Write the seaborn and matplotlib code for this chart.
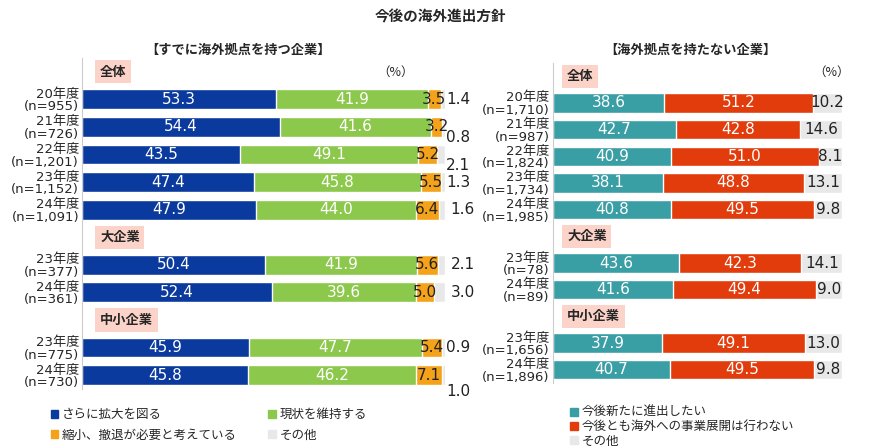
import numpy as np
import pandas as pd
import matplotlib.pyplot as plt
import seaborn as sns
from matplotlib.patches import Patch

sns.set_style("white")
plt.rcParams['font.family'] = ['DejaVu Sans', 'Noto Sans CJK JP']
CJK = ['Noto Sans CJK JP', 'DejaVu Sans']

# data -------------------------------------------------
left_rows = ["20年度\n(n=955)", "21年度\n(n=726)", "22年度\n(n=1,201)", "23年度\n(n=1,152)", "24年度\n(n=1,091)",
             "23年度\n(n=377)", "24年度\n(n=361)", "23年度\n(n=775)", "24年度\n(n=730)"]
left_expand = [53.3, 54.4, 43.5, 47.4, 47.9, 50.4, 52.4, 45.9, 45.8]
left_keep = [41.9, 41.6, 49.1, 45.8, 44.0, 41.9, 39.6, 47.7, 46.2]
left_shrink = [3.5, 3.2, 5.2, 5.5, 6.4, 5.6, 5.0, 5.4, 7.1]
left_other = [1.4, 0.8, 2.1, 1.3, 1.6, 2.1, 3.0, 0.9, 1.0]

right_rows = ["20年度\n(n=1,710)", "21年度\n(n=987)", "22年度\n(n=1,824)", "23年度\n(n=1,734)", "24年度\n(n=1,985)",
              "23年度\n(n=78)", "24年度\n(n=89)", "23年度\n(n=1,656)", "24年度\n(n=1,896)"]
right_new = [38.6, 42.7, 40.9, 38.1, 40.8, 43.6, 41.6, 37.9, 40.7]
right_none = [51.2, 42.8, 51.0, 48.8, 49.5, 42.3, 49.4, 49.1, 49.5]
right_other = [10.2, 14.6, 8.1, 13.1, 9.8, 14.1, 9.0, 13.0, 9.8]

groups = ["全体", "大企業", "中小企業"]
group_sizes = [5, 2, 2]

BLUE, GREEN, ORANGE, GREY = '#0a3a9e', '#8cc84b', '#f5a21b', '#e8e8e8'
TEAL, RED = '#3a9ea5', '#e23c0c'


def slot_order(rows):
    order, heads, i = [], [], 0
    for g, n in zip(groups, group_sizes):
        heads.append((len(order), g))
        order.append(f"_h{len(heads)}")
        for _ in range(n):
            order.append(f"{i}|{rows[i]}")
            i += 1
    return order, heads


def stacked(ax, rows, series, colors, txtcolors, outside):
    order, heads = slot_order(rows)
    keys = [f"{i}|{r}" for i, r in enumerate(rows)]
    cum = np.cumsum(np.array(series), axis=0)
    for k in range(len(series) - 1, -1, -1):
        df = pd.DataFrame({"slot": keys, "v": cum[k]})
        sns.barplot(data=df, x="v", y="slot", order=order, orient="h", color=colors[k],
                    width=0.72, ax=ax, saturation=1, errorbar=None)
    pos = {s: j for j, s in enumerate(order)}
    for i, key in enumerate(keys):
        y = pos[key]
        start = 0
        for k, vals in enumerate(series):
            v = vals[i]
            if (k, i) in outside:
                dx, dy = outside[(k, i)]
                ax.text(100 + dx, y + dy, f"{v:.1f}", ha="left", va="center", fontsize=11, color="#222")
            else:
                ax.text(start + v / 2, y, f"{v:.1f}", ha="center", va="center", fontsize=11, color=txtcolors[k])
            start += v
    for j, g in heads:
        ax.text(5, j, g, ha="left", va="center", fontsize=9.5, fontweight="bold", family=CJK,
                bbox=dict(boxstyle="square,pad=0.35", fc="#fbd3c8", ec="none"))
    ax.set_yticks(range(len(order)))
    ax.set_yticklabels([s.split("|", 1)[1] if "|" in s else "" for s in order], fontsize=9.5,
                       linespacing=0.95)
    ax.set_xlim(0, 100)
    ax.set_ylim(len(order) - 0.5, -0.5)
    ax.set_xticks([])
    ax.set_xlabel("")
    ax.set_ylabel("")
    for s in ["top", "right", "bottom"]:
        ax.spines[s].set_visible(False)
    ax.spines["left"].set_color("#cccccc")
    ax.tick_params(axis="y", length=0, pad=2)


fig = plt.figure(figsize=(8.8, 4.46), dpi=100)
axL = fig.add_axes([0.093, 0.128, 0.413, 0.742])
axR = fig.add_axes([0.628, 0.141, 0.329, 0.718])

outL = {(3, 0): (0.2, 0), (3, 1): (0.2, 0.4), (3, 2): (0.2, 0.4), (3, 3): (0.2, 0), (3, 4): (1.5, 0),
        (3, 5): (1.5, 0), (3, 6): (1.5, 0), (3, 7): (0.2, 0), (3, 8): (0.2, 0.6)}
stacked(axL, left_rows, [left_expand, left_keep, left_shrink, left_other],
        [BLUE, GREEN, ORANGE, GREY], ["white", "white", "#222", "#222"], outL)
stacked(axR, right_rows, [right_new, right_none, right_other],
        [TEAL, RED, GREY], ["white", "white", "#222"], {})

fig.text(0.5, 0.962, "今後の海外進出方針", ha="center", va="center", fontsize=10.5, fontweight="bold", family=CJK)
fig.text(0.27, 0.888, "【すでに海外拠点を持つ企業】", ha="center", va="center", fontsize=9.5, fontweight="bold", family=CJK)
fig.text(0.785, 0.888, "【海外拠点を持たない企業】", ha="center", va="center", fontsize=9.5, fontweight="bold", family=CJK)
fig.text(0.45, 0.838, "（%）", ha="center", va="center", fontsize=9, family=CJK)
fig.text(0.945, 0.838, "（%）", ha="center", va="center", fontsize=9, family=CJK)

legL = fig.legend(handles=[Patch(color=BLUE, label="さらに拡大を図る"), Patch(color=ORANGE, label="縮小、撤退が必要と考えている"),
                    Patch(color=GREEN, label="現状を維持する"), Patch(color=GREY, label="その他")],
           ncol=2, loc="upper left", bbox_to_anchor=(0.045, 0.11), frameon=False,
           prop={'family': CJK, 'size': 9},
           handlelength=0.6, handleheight=0.6, handletextpad=0.3, columnspacing=2.5, labelspacing=0.6)
fig.legend(handles=[Patch(color=TEAL, label="今後新たに進出したい"), Patch(color=RED, label="今後とも海外への事業展開は行わない"),
                    Patch(color=GREY, label="その他")],
           loc="upper left", bbox_to_anchor=(0.635, 0.115), frameon=False, prop={'family': CJK, 'size': 9},
           handlelength=0.6, handleheight=0.6, handletextpad=0.3, labelspacing=0.1)

fig.savefig("out.png", dpi=100)
